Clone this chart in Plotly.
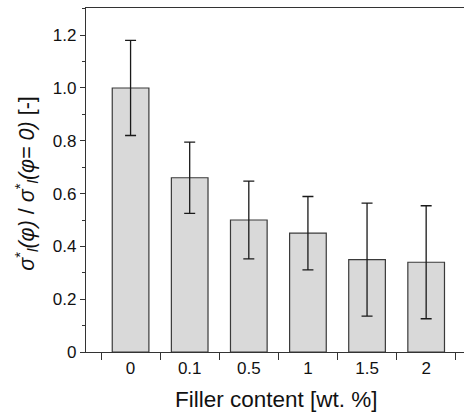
import plotly.graph_objects as go

categories = ["0", "0.1", "0.5", "1", "1.5", "2"]
values = [1.0, 0.66, 0.50, 0.45, 0.35, 0.34]
errors = [0.18, 0.135, 0.147, 0.139, 0.214, 0.214]
y_tickvals = [0, 0.2, 0.4, 0.6, 0.8, 1.0, 1.2]
y_ticktext = ["0", "0.2", "0.4", "0.6", "0.8", "1.0", "1.2"]

FONT = "Liberation Sans, Arial, Helvetica, sans-serif"
AX = "#333333"

fig = go.Figure()
fig.add_trace(go.Bar(
    x=categories, y=values, width=0.62,
    marker=dict(color="#d9d9d9", line=dict(color="#3a3a3a", width=1.2)),
    error_y=dict(type="data", array=errors, visible=True,
                 color="#1a1a1a", thickness=1.3, width=5.5),
))

fig.update_layout(
    width=464, height=412,
    margin=dict(l=86, r=0, t=8, b=60),
    plot_bgcolor="white", paper_bgcolor="white",
    showlegend=False,
    font=dict(family=FONT, size=17, color="#111111"),
    bargap=0.38,
)
fig.update_xaxes(
    type="category", range=[-0.754, 5.64],
    showline=True, linecolor=AX, linewidth=1.2, mirror=True,
    ticks="outside", tickson="boundaries", ticklen=7, tickcolor=AX, tickwidth=1.2,
    showgrid=False, zeroline=False,
    tickfont=dict(size=17),
)
fig.update_yaxes(
    range=[0, 1.303],
    showline=True, linecolor=AX, linewidth=1.2, mirror=False,
    ticks="outside", ticklen=5, tickcolor=AX, tickwidth=1.2,
    tickvals=y_tickvals, ticktext=y_ticktext,
    minor=dict(ticks="outside", ticklen=3, tickcolor=AX, tickwidth=1.2, dtick=0.1, tick0=0, showgrid=False),
    showgrid=False, zeroline=False,
    tickfont=dict(size=17),
)

fig.add_annotation(
    xref="paper", yref="paper", x=-0.158, y=0.49,
    xanchor="center", yanchor="middle", textangle=-90, showarrow=False,
    text="<i>σ</i><sup>*</sup><sub><i>l</i></sub><i>(φ)</i> / <i>σ</i><sup>*</sup><sub><i>l</i></sub><i>(φ= 0)</i> [-]",
    font=dict(family=FONT, size=21.5, color="#111111"),
)
fig.add_annotation(
    xref="paper", yref="paper", x=0.505, y=-0.1395,
    xanchor="center", yanchor="middle", showarrow=False,
    text="Filler content [wt. %]",
    font=dict(family=FONT, size=22.5, color="#111111"),
)

fig.write_html("out.html")
